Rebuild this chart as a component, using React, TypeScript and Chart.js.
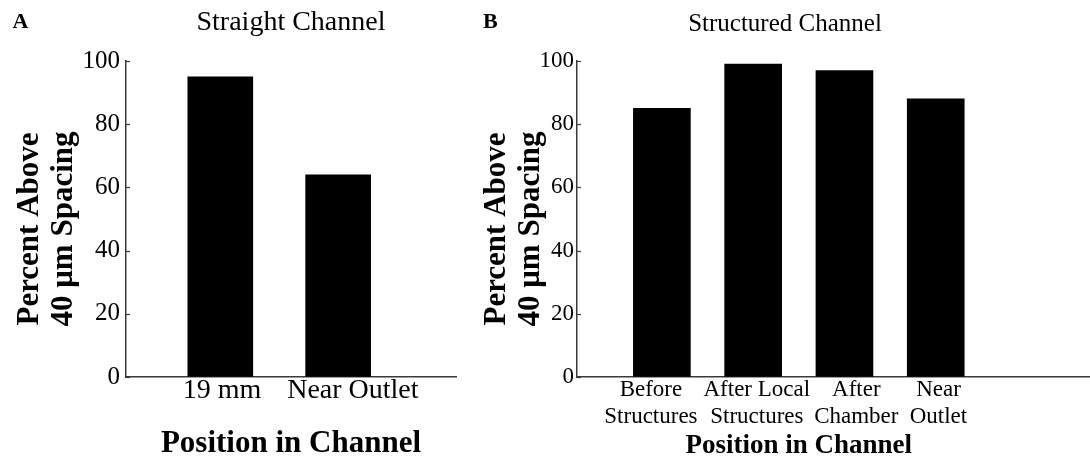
import React, { useEffect, useRef } from 'react';
import { Chart, registerables } from 'chart.js';

Chart.register(...registerables);

const FONT = "'Liberation Serif', 'Times New Roman', serif";
const AXIS_COLOR = '#3a3a3a';

// ---- data ----
const straightTitle = 'Straight Channel';
const straightPositions = [1, 2];
const straightValues = [95, 64];
const straightLabels = ['19 mm', 'Near Outlet'];
const straightLabelPositions = [1.015, 2.125];

const structuredTitle = 'Structured Channel';
const structuredPositions = [1, 2, 3, 4];
const structuredValues = [85, 99, 97, 88];
const structuredLabels = [
  ['Before', 'Structures'],
  ['After Local', 'Structures'],
  ['After', 'Chamber'],
  ['Near', 'Outlet'],
];
const structuredLabelPositions = [0.88, 2.04, 3.13, 4.03];

const yMin = 0;
const yMax = 100;
const yStep = 20;
const yTitle = ['Percent Above', '40 μm Spacing'];
const xTitle = 'Position in Channel';

type PanelSpec = {
  letter: string;
  letterX: number;
  title: string;
  titleSize: number;
  titlePadTop: number;
  titlePadBottom: number;
  titleFull: boolean;
  positions: number[];
  values: number[];
  labels: (string | string[])[];
  labelPositions: number[];
  xMin: number;
  xMax: number;
  barWidth: number;
  padLeft: number;
  padRight: number;
  yWidth: number;
  yTitleX: number;
  yTitleY: number;
  yTickSize: number;
  yTickPad: number;
  xHeight: number;
  xTickSize: number;
  xTickLine: number;
  xTickPad: number;
  xTitleSize: number;
  xTitleOnScale: boolean;
  xTitlePadBottom: number;
  xTitleY: number;
  xTitleCenterValue: number;
};

function makePlugin(spec: PanelSpec) {
  return {
    id: 'panelExtras',
    afterDraw(chart: any) {
      const ctx = chart.ctx;
      const ys = chart.scales.y;
      const xs = chart.scales.x;
      const left = chart.chartArea.left;
      ctx.save();
      // inward tick marks on the y axis
      ctx.strokeStyle = AXIS_COLOR;
      ctx.lineWidth = 1.2;
      ys.ticks.forEach((_t: any, i: number) => {
        const py = Math.round(ys.getPixelForTick(i)) + 0.5;
        ctx.beginPath();
        ctx.moveTo(left, py);
        ctx.lineTo(left + 4, py);
        ctx.stroke();
      });
      // panel letter
      ctx.fillStyle = '#000';
      ctx.font = `bold 22px ${FONT}`;
      ctx.textAlign = 'left';
      ctx.textBaseline = 'middle';
      ctx.fillText(spec.letter, spec.letterX, 22.5);
      // y axis title (two lines, rotated)
      ctx.save();
      ctx.translate(spec.yTitleX, spec.yTitleY);
      ctx.rotate(-Math.PI / 2);
      ctx.font = `bold 31px ${FONT}`;
      ctx.textAlign = 'center';
      ctx.textBaseline = 'middle';
      yTitle.forEach((line, i) => ctx.fillText(line, 0, i * 34));
      ctx.restore();
      // x axis title when not drawn by the scale
      if (!spec.xTitleOnScale) {
        ctx.font = `bold ${spec.xTitleSize}px ${FONT}`;
        ctx.textAlign = 'center';
        ctx.textBaseline = 'middle';
        ctx.fillText(xTitle, xs.getPixelForValue(spec.xTitleCenterValue), spec.xTitleY);
      }
      ctx.restore();
    },
  };
}

function makeConfig(spec: PanelSpec): any {
  return {
    type: 'bar',
    data: {
      datasets: [
        {
          data: spec.positions.map((x, i) => ({ x, y: spec.values[i] })),
          backgroundColor: '#000000',
          borderWidth: 0,
          barThickness: spec.barWidth,
        },
      ],
    },
    options: {
      responsive: false,
      animation: false,
      layout: { padding: { left: spec.padLeft, right: spec.padRight, top: 0, bottom: 0 } },
      plugins: {
        legend: { display: false },
        tooltip: { enabled: false },
        title: {
          display: true,
          text: spec.title,
          color: '#000',
          fullSize: spec.titleFull,
          font: { family: FONT, size: spec.titleSize, weight: 'normal', lineHeight: '30px' },
          padding: { top: spec.titlePadTop, bottom: spec.titlePadBottom },
        },
      },
      scales: {
        x: {
          type: 'linear',
          min: spec.xMin,
          max: spec.xMax,
          offset: false,
          grid: { display: true, drawOnChartArea: false, drawTicks: false, offset: false },
          border: { display: true, color: AXIS_COLOR, width: 1.5 },
          afterBuildTicks: (scale: any) => {
            scale.ticks = spec.labelPositions.map((v) => ({ value: v }));
          },
          afterFit: (scale: any) => {
            scale.height = spec.xHeight;
          },
          ticks: {
            autoSkip: false,
            maxRotation: 0,
            minRotation: 0,
            color: '#000',
            padding: spec.xTickPad,
            font: { family: FONT, size: spec.xTickSize, lineHeight: `${spec.xTickLine}px` },
            callback: (_v: any, i: number) => spec.labels[i],
          },
          title: {
            display: spec.xTitleOnScale,
            text: xTitle,
            color: '#000',
            font: { family: FONT, size: spec.xTitleSize, weight: 'bold', lineHeight: `${spec.xTitleSize}px` },
            padding: { top: 0, bottom: spec.xTitlePadBottom },
          },
        },
        y: {
          min: yMin,
          max: yMax,
          grid: { display: true, drawOnChartArea: false, drawTicks: false },
          border: { display: true, color: AXIS_COLOR, width: 1.5 },
          afterFit: (scale: any) => {
            scale.width = spec.yWidth;
          },
          ticks: {
            stepSize: yStep,
            color: '#000',
            padding: spec.yTickPad,
            font: { family: FONT, size: spec.yTickSize },
          },
          title: { display: false },
        },
      },
    },
    plugins: [makePlugin(spec)],
  };
}

const specA: PanelSpec = {
  letter: 'A',
  letterX: 12.5,
  title: straightTitle,
  titleSize: 28,
  titlePadTop: 8,
  titlePadBottom: 23,
  titleFull: false,
  positions: straightPositions,
  values: straightValues,
  labels: straightLabels,
  labelPositions: straightLabelPositions,
  xMin: 0.2,
  xMax: 3.0,
  barWidth: 65,
  padLeft: 0,
  padRight: 14,
  yWidth: 126,
  yTitleX: 30,
  yTitleY: 229,
  yTickSize: 25,
  yTickPad: 6,
  xHeight: 93,
  xTickSize: 28,
  xTickLine: 27,
  xTickPad: 0,
  xTitleSize: 31,
  xTitleOnScale: true,
  xTitlePadBottom: 11,
  xTitleY: 443,
  xTitleCenterValue: 1.5,
};

const specB: PanelSpec = {
  letter: 'B',
  letterX: 13,
  title: structuredTitle,
  titleSize: 25,
  titlePadTop: 9,
  titlePadBottom: 22,
  titleFull: true,
  positions: structuredPositions,
  values: structuredValues,
  labels: structuredLabels,
  labelPositions: structuredLabelPositions,
  xMin: 0.07,
  xMax: 5.69,
  barWidth: 57,
  padLeft: 10,
  padRight: 0,
  yWidth: 97,
  yTitleX: 27,
  yTitleY: 229,
  yTickSize: 23,
  yTickPad: 3,
  xHeight: 93,
  xTickSize: 23,
  xTickLine: 27,
  xTickPad: -1,
  xTitleSize: 27,
  xTitleOnScale: false,
  xTitlePadBottom: 11,
  xTitleY: 446,
  xTitleCenterValue: 2.5,
};

function Panel({ spec, left, width }: { spec: PanelSpec; left: number; width: number }) {
  const ref = useRef<HTMLCanvasElement | null>(null);
  useEffect(() => {
    if (!ref.current) return;
    const chart = new Chart(ref.current, makeConfig(spec));
    return () => chart.destroy();
  }, [spec]);
  return (
    <canvas
      ref={ref}
      width={width}
      height={470}
      style={{ position: 'absolute', left, top: 0, width, height: 470 }}
    />
  );
}

export default function App() {
  return (
    <div
      style={{
        position: 'fixed',
        left: 0,
        top: 0,
        width: 1090,
        height: 456,
        overflow: 'hidden',
        background: '#ffffff',
      }}
    >
      <Panel spec={specA} left={0} width={470} />
      <Panel spec={specB} left={470} width={620} />
    </div>
  );
}
